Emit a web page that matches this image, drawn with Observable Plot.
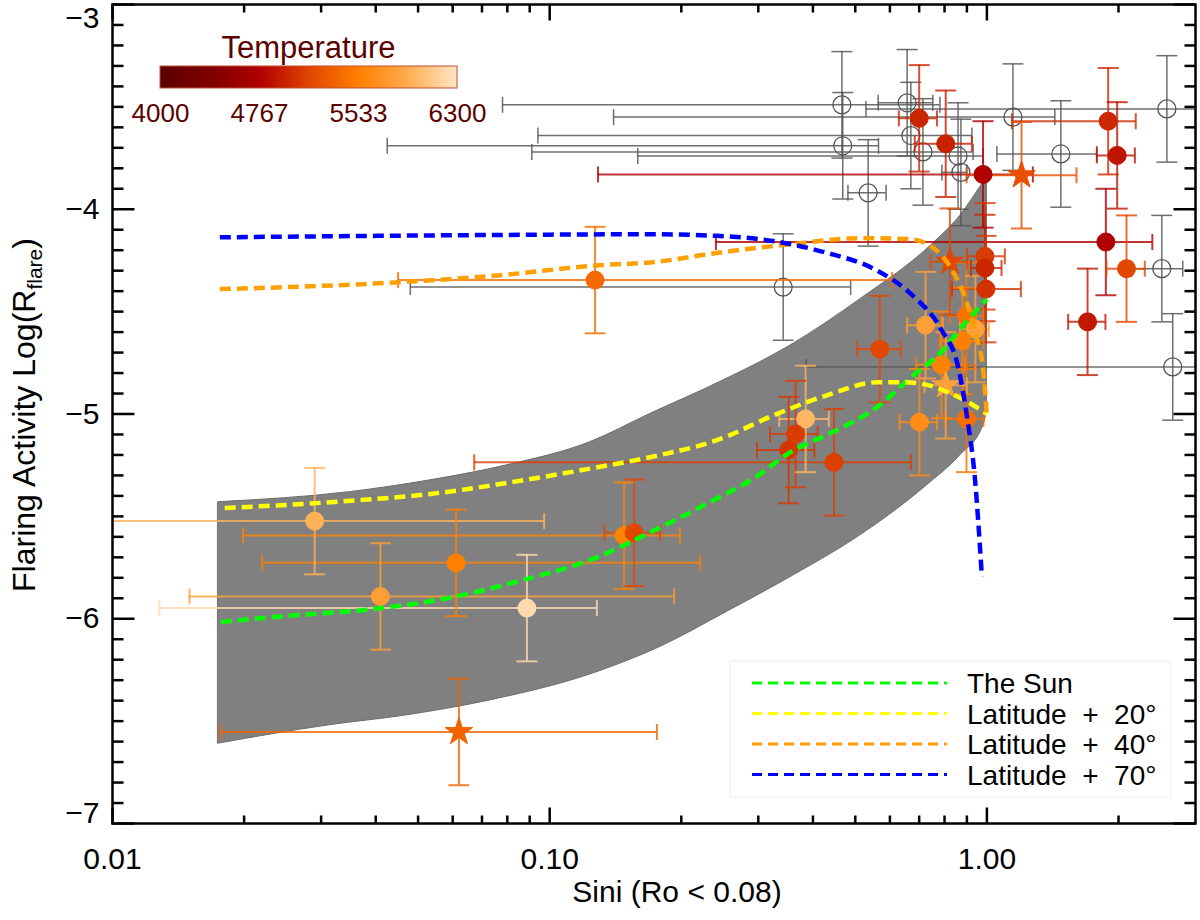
<!DOCTYPE html>
<html><head><meta charset="utf-8">
<script src="https://cdn.jsdelivr.net/npm/d3@7"></script>
<script src="https://cdn.jsdelivr.net/npm/@observablehq/plot@0.6"></script>
<style>
html,body{margin:0;padding:0;background:#fff;}
#wrap{position:relative;width:1200px;height:920px;overflow:hidden;}
</style></head><body><div id="wrap"></div>
<script>
// ---- axis ticks / labels ----
const xTickValues = [0.01, 0.1, 1];
const xMinorValues = [0.02,0.03,0.04,0.05,0.06,0.07,0.08,0.09,0.2,0.3,0.4,0.5,0.6,0.7,0.8,0.9,2];
const yTickValues = [-7, -6, -5, -4, -3];
const tempStops = [4000, 4383.33, 4766.67, 5150, 5533.33, 5916.67, 6300];
const tempColors = ["#5c0000", "#800000", "#b00000", "#e04400", "#ff7f00", "#ffac4d", "#ffe6c8"];
const tempTicks = [4000, 4767, 5533, 6300];

// ---- shaded model band: upper and lower edges, left -> right ----
const bandUpperX = [0.01746, 0.0348, 0.053, 0.0794, 0.1237, 0.1697, 0.2453, 0.3545, 0.5137, 0.743, 0.868, 0.981, 1.0];
const bandUpperY = [-5.431, -5.382, -5.325, -5.252, -5.138, -5.0, -4.844, -4.667, -4.439, -4.179, -4.033, -3.87, -3.844];
const bandLowerX = [0.01746, 0.0314, 0.047, 0.0704, 0.1287, 0.1789, 0.2541, 0.3608, 0.5126, 0.728, 0.868, 0.981, 1.0];
const bandLowerY = [-6.61, -6.52, -6.472, -6.406, -6.26, -6.138, -5.967, -5.789, -5.594, -5.35, -5.203, -5.057, -4.992];

// ---- model curves ----
const sunX = [0.0177,0.0257,0.0385,0.0575,0.0861,0.1287,0.1639,0.2208,0.2953,0.3551,0.4432,0.5532,0.6776,0.785,0.894,1.0];
const sunY = [-6.016,-5.984,-5.955,-5.902,-5.813,-5.699,-5.594,-5.455,-5.309,-5.187,-5.089,-4.976,-4.813,-4.699,-4.553,-4.439];
const lat20X = [0.01806,0.0314,0.0575,0.0861,0.1287,0.1697,0.2453,0.3238,0.4272,0.5636,0.641,0.716,0.8145,0.894,1.0];
const lat20Y = [-5.459,-5.431,-5.382,-5.325,-5.26,-5.211,-5.122,-5.008,-4.911,-4.845,-4.845,-4.854,-4.894,-4.935,-5.0];
const lat40X = [0.0176,0.0269,0.0455,0.0771,0.1304,0.1697,0.2453,0.3551,0.5137,0.6655,0.743,0.830,0.894,0.9447,0.9802,1.0];
const lat40Y = [-4.39,-4.378,-4.356,-4.322,-4.273,-4.26,-4.211,-4.171,-4.141,-4.146,-4.179,-4.293,-4.439,-4.618,-4.78,-5.008];
const lat70X = [0.0176,0.0455,0.1003,0.1697,0.2409,0.3238,0.4272,0.5532,0.6776,0.785,0.8615,0.902,0.936,0.974];
const lat70Y = [-4.137,-4.129,-4.124,-4.122,-4.13,-4.155,-4.211,-4.293,-4.423,-4.585,-4.78,-5.024,-5.284,-5.795];

// ---- open grey circles (no temperature) ----
const grayX   = [0.466, 0.468, 0.535, 0.657, 0.670, 0.714, 0.859, 0.872, 1.147, 1.476, 2.58, 2.512, 2.661, 0.342];
const grayY   = [-3.49, -3.69, -3.92, -3.48, -3.64, -3.72, -3.74, -3.82, -3.55, -3.73, -3.51, -4.29, -4.77, -4.38];
const grayXlo = [0.078, 0.0425, 0.481, 0.564, 0.094, 0.091, 0.159, 0.789, 0.140, 1.054, 0.529, 2.145, 0.386, 0.048];
const grayXhi = [0.781, 0.565, 0.588, 0.752, 0.924, 0.93, 0.98, 0.90, 1.43, 1.784, 4.0, 2.805, 4.0, 0.488];
const grayYerr = [0.26,0.26,0.26,0.26,0.26,0.26,0.26,0.26,0.26,0.26,0.26,0.26,0.26,0.26];

// ---- filled circles coloured by temperature ----
const hotX   = [0.70, 0.805, 0.98, 1.894, 1.986, 1.871, 2.086, 1.699, 0.99, 0.99, 0.995, 0.569, 0.724, 0.898, 0.941, 0.879, 0.787, 0.701, 0.898, 0.385, 0.365, 0.352, 0.447, 0.127, 0.029, 0.0611, 0.148, 0.156, 0.041, 0.0887];
const hotY   = [-3.556, -3.68, -3.83, -3.57, -3.737, -4.16, -4.29, -4.55, -4.23, -4.287, -4.39, -4.683, -4.566, -4.52, -4.585, -4.643, -4.76, -5.04, -5.024, -5.024, -5.098, -5.176, -5.236, -4.346, -5.523, -5.727, -5.594, -5.58, -5.891, -5.948];
const hotXlo = [0.629, 0.684, 0.129, 1.141, 1.784, 0.240, 1.877, 1.534, 0.90, 0.92, 0.832, 0.505, 0.657, 0.823, 0.868, 0.781, 0.69, 0.631, 0.80, 0.335, 0.319, 0.298, 0.0672, 0.045, 0.008, 0.022, 0.0199, 0.1335, 0.015, 0.0128];
const hotXhi = [0.769, 0.924, 1.274, 2.19, 2.18, 2.39, 2.297, 1.867, 1.099, 1.08, 1.196, 0.635, 0.793, 0.982, 1.01, 0.982, 0.89, 0.769, 0.982, 0.435, 0.410, 0.403, 0.670, 0.607, 0.0971, 0.221, 0.1986, 0.1788, 0.1926, 0.1282];
const hotYerr = [0.26,0.26,0.26,0.26,0.26,0.26,0.26,0.26,0.26,0.26,0.26,0.26,0.26,0.26,0.26,0.26,0.26,0.26,0.26,0.26,0.26,0.26,0.26,0.26,0.26,0.26,0.26,0.26,0.26,0.26];
const hotTemp = [4980, 4950, 4767, 5000, 4880, 4767, 5170, 4900, 5100, 4980, 5050, 5170, 5800, 5450, 5820, 5540, 5560, 5650, 5420, 5980, 5100, 5070, 5120, 5400, 5950, 5540, 5560, 5170, 5800, 6220];

// ---- stars ----
const starX   = [1.2, 0.823, 0.805, 0.062];
const starY   = [-3.834, -4.256, -4.86, -6.553];
const starXlo = [0.898, 0.743, 0.72, 0.01764];
const starXhi = [1.603, 0.902, 0.90, 0.1759];
const starYerr = [0.26, 0.26, 0.26, 0.26];
const starTemp = [5230, 5170, 5820, 5350];

// ---- legend entries ----
const curveNames = ["The Sun", "Latitude\u00a0\u00a0+\u00a0\u00a020°", "Latitude\u00a0\u00a0+\u00a0\u00a040°", "Latitude\u00a0\u00a0+\u00a0\u00a070°"];
const curveColors = ["#00ff00", "#ffff00", "#ffa000", "#0000ff"];

// ---- build tables ----
const band = bandUpperX.map((x, i) => ({xt: x, yt: bandUpperY[i], xb: bandLowerX[i], yb: bandLowerY[i]}));
const pts = (X, Y) => X.map((x, i) => ({x, y: Y[i]}));
const rows = (X, Y, LO, HI, E, T) => X.map((x, i) => ({x, y: Y[i], xlo: LO[i], xhi: HI[i], ylo: Y[i] - E[i], yhi: Y[i] + E[i], t: T ? T[i] : null}));
const gray = rows(grayX, grayY, grayXlo, grayXhi, grayYerr);
const hot = rows(hotX, hotY, hotXlo, hotXhi, hotYerr, hotTemp);
const stars = rows(starX, starY, starXlo, starXhi, starYerr, starTemp);

// custom line symbols (length given by r)
const len = s => Math.sqrt(s / Math.PI);
const hSeg = {draw(c, s) {const r = len(s); c.moveTo(-r, 0); c.lineTo(r, 0);}};
const vSeg = {draw(c, s) {const r = len(s); c.moveTo(0, -r); c.lineTo(0, r);}};
const tRight = {draw(c, s) {c.moveTo(0, 0); c.lineTo(len(s), 0);}};
const tLeft = {draw(c, s) {c.moveTo(0, 0); c.lineTo(-len(s), 0);}};
const tUp = {draw(c, s) {c.moveTo(0, 0); c.lineTo(0, -len(s));}};
const tDown = {draw(c, s) {c.moveTo(0, 0); c.lineTo(0, len(s));}};

const yMinor = d3.range(-69, -30).filter(v => v % 10 !== 0).map(v => v / 10);

function errMarks(data, stroke, sw, opacity) {
  return [
    Plot.ruleY(data, {y: "y", x1: "xlo", x2: "xhi", stroke, strokeWidth: sw, strokeOpacity: opacity, clip: true}),
    Plot.ruleX(data, {x: "x", y1: "ylo", y2: "yhi", stroke, strokeWidth: sw, strokeOpacity: opacity, clip: true}),
    Plot.dot(data, {x: "x", y: "ylo", symbol: hSeg, r: 10.5, stroke, fill: "none", strokeWidth: sw, strokeOpacity: opacity, clip: true}),
    Plot.dot(data, {x: "x", y: "yhi", symbol: hSeg, r: 10.5, stroke, fill: "none", strokeWidth: sw, strokeOpacity: opacity, clip: true}),
    Plot.dot(data, {x: "xlo", y: "y", symbol: vSeg, r: 8, stroke, fill: "none", strokeWidth: sw, strokeOpacity: opacity, clip: true}),
    Plot.dot(data, {x: "xhi", y: "y", symbol: vSeg, r: 8, stroke, fill: "none", strokeWidth: sw, strokeOpacity: opacity, clip: true})
  ];
}
const dash = {strokeWidth: 4.5, strokeDasharray: "11,6", strokeLinecap: "butt", curve: "monotone-x"};
const ff = "'Liberation Sans', Arial, sans-serif";

const chart = Plot.plot({
  width: 1200, height: 920,
  marginLeft: 112, marginRight: 5, marginTop: 4, marginBottom: 97,
  style: {fontFamily: ff, fontSize: "30px", background: "white", color: "black"},
  x: {type: "log", domain: [0.01, 3.0]},
  y: {domain: [-7, -3]},
  color: {type: "linear", domain: tempStops, range: tempColors, interpolate: "rgb"},
  marks: [
    Plot.area(band, {x1: "xb", y1: "yb", x2: "xt", y2: "yt", fill: "#808080", stroke: "#6e6e6e", strokeWidth: 1, curve: "monotone-x"}),
    ...errMarks(gray, "#555555", 1.5, 0.85),
    Plot.dot(gray, {x: "x", y: "y", r: 9, stroke: "#555555", strokeWidth: 1.3, fill: "none"}),
    ...errMarks(hot, "t", 2, 0.8),
    ...errMarks(stars, "t", 2, 0.8),
    Plot.dot(hot, {x: "x", y: "y", r: 9, fill: "t", stroke: "t", strokeWidth: 1}),
    Plot.dot(stars, {x: "x", y: "y", r: 8.7, symbol: "star", fill: "t", stroke: "t", strokeWidth: 1}),
    Plot.line(pts(sunX, sunY), {x: "x", y: "y", stroke: curveColors[0], ...dash}),
    Plot.line(pts(lat20X, lat20Y), {x: "x", y: "y", stroke: curveColors[1], ...dash}),
    Plot.line(pts(lat40X, lat40Y), {x: "x", y: "y", stroke: curveColors[2], ...dash}),
    Plot.line(pts(lat70X, lat70Y), {x: "x", y: "y", stroke: curveColors[3], ...dash}),
    // inward ticks on all four sides
    Plot.dot(yTickValues, {y: d => d, frameAnchor: "left", symbol: tRight, r: 22, stroke: "black", strokeWidth: 2.5}),
    Plot.dot(yMinor, {y: d => d, frameAnchor: "left", symbol: tRight, r: 11, stroke: "black", strokeWidth: 2.5}),
    Plot.dot(yTickValues, {y: d => d, frameAnchor: "right", symbol: tLeft, r: 22, stroke: "black", strokeWidth: 2.5}),
    Plot.dot(yMinor, {y: d => d, frameAnchor: "right", symbol: tLeft, r: 11, stroke: "black", strokeWidth: 2.5}),
    Plot.dot(xTickValues, {x: d => d, frameAnchor: "bottom", symbol: tUp, r: 16, stroke: "black", strokeWidth: 2.5}),
    Plot.dot(xMinorValues, {x: d => d, frameAnchor: "bottom", symbol: tUp, r: 8, stroke: "black", strokeWidth: 2.5}),
    Plot.dot(xTickValues, {x: d => d, frameAnchor: "top", symbol: tDown, r: 16, stroke: "black", strokeWidth: 2.5}),
    Plot.dot(xMinorValues, {x: d => d, frameAnchor: "top", symbol: tDown, r: 8, stroke: "black", strokeWidth: 2.5}),
    Plot.frame({stroke: "black", strokeWidth: 2.5}),
    Plot.axisX({ticks: xTickValues, tickFormat: d3.format(".2f"), tickSize: 0, tickPadding: 24, label: null, fontSize: 30}),
    Plot.axisY({ticks: yTickValues.slice(1, 4), tickFormat: d3.format("d"), tickSize: 0, tickPadding: 13, label: null, fontSize: 30}),
    Plot.axisY({ticks: [yTickValues[4]], tickFormat: d3.format("d"), tickSize: 0, tickPadding: 13, label: null, fontSize: 30, dy: 14}),
    Plot.axisY({ticks: [yTickValues[0]], tickFormat: d3.format("d"), tickSize: 0, tickPadding: 13, label: null, fontSize: 30, dy: -10})
  ]
});
const wrap = document.getElementById("wrap");
wrap.appendChild(chart);

const svg = d3.select(chart);
// axis titles
svg.append("text").attr("x", 677).attr("y", 902).attr("text-anchor", "middle")
  .attr("font-family", ff).attr("font-size", 30).attr("fill", "black").text("Sini (Ro < 0.08)");
const yl = svg.append("text").attr("transform", "translate(35,415) rotate(-90)").attr("text-anchor", "middle")
  .attr("font-family", ff).attr("font-size", 32).attr("fill", "black");
yl.append("tspan").text("Flaring Activity Log(R");
yl.append("tspan").attr("font-size", 21).attr("dy", 7).text("flare");
yl.append("tspan").attr("dy", -7).text(")");

// curve legend
const lg = svg.append("g");
lg.append("rect").attr("x", 730).attr("y", 661).attr("width", 441).attr("height", 136)
  .attr("fill", "white").attr("stroke", "#eeeeee");
curveNames.forEach((name, i) => {
  const y = 683 + i * 30.5;
  lg.append("line").attr("x1", 752).attr("x2", 947).attr("y1", y).attr("y2", y)
    .attr("stroke", curveColors[i]).attr("stroke-width", 3).attr("stroke-dasharray", "10,6");
  lg.append("text").attr("x", 967).attr("y", y + 10).attr("text-anchor", "start").attr("font-family", ff).attr("font-size", 28)
    .attr("fill", "black").text(name);
});

// colour bar
const cb = Plot.legend({
  color: {type: "linear", domain: tempStops, range: tempColors, interpolate: "rgb"},
  width: 377, height: 106, marginLeft: 40, marginRight: 40, marginTop: 48, marginBottom: 36,
  ticks: tempTicks, tickFormat: d => String(d), tickSize: 0,
  style: {fontFamily: ff, fontSize: "26px", color: "#5c0000", background: "transparent", overflow: "visible"}
});
const cbSvg = cb.tagName.toLowerCase() === "svg" ? cb : cb.querySelector("svg");
cb.style.position = "absolute"; cb.style.left = "120px"; cb.style.top = "18px";
wrap.appendChild(cb);
const cbs = d3.select(cbSvg);
cbs.selectAll(".tick text").attr("y", 16).attr("fill", "#5c0000").attr("font-size", 26);
cbs.selectAll(".tick line").attr("stroke", "none");
cbs.append("rect").attr("x", 40).attr("y", 48).attr("width", 297).attr("height", 22)
  .attr("fill", "none").attr("stroke", "#c05030").attr("stroke-width", 1);
cbs.append("text").attr("x", 188.5).attr("y", 40).attr("text-anchor", "middle")
  .attr("font-family", ff).attr("font-size", 31).attr("fill", "#5c0000").text("Temperature");
</script></body></html>
